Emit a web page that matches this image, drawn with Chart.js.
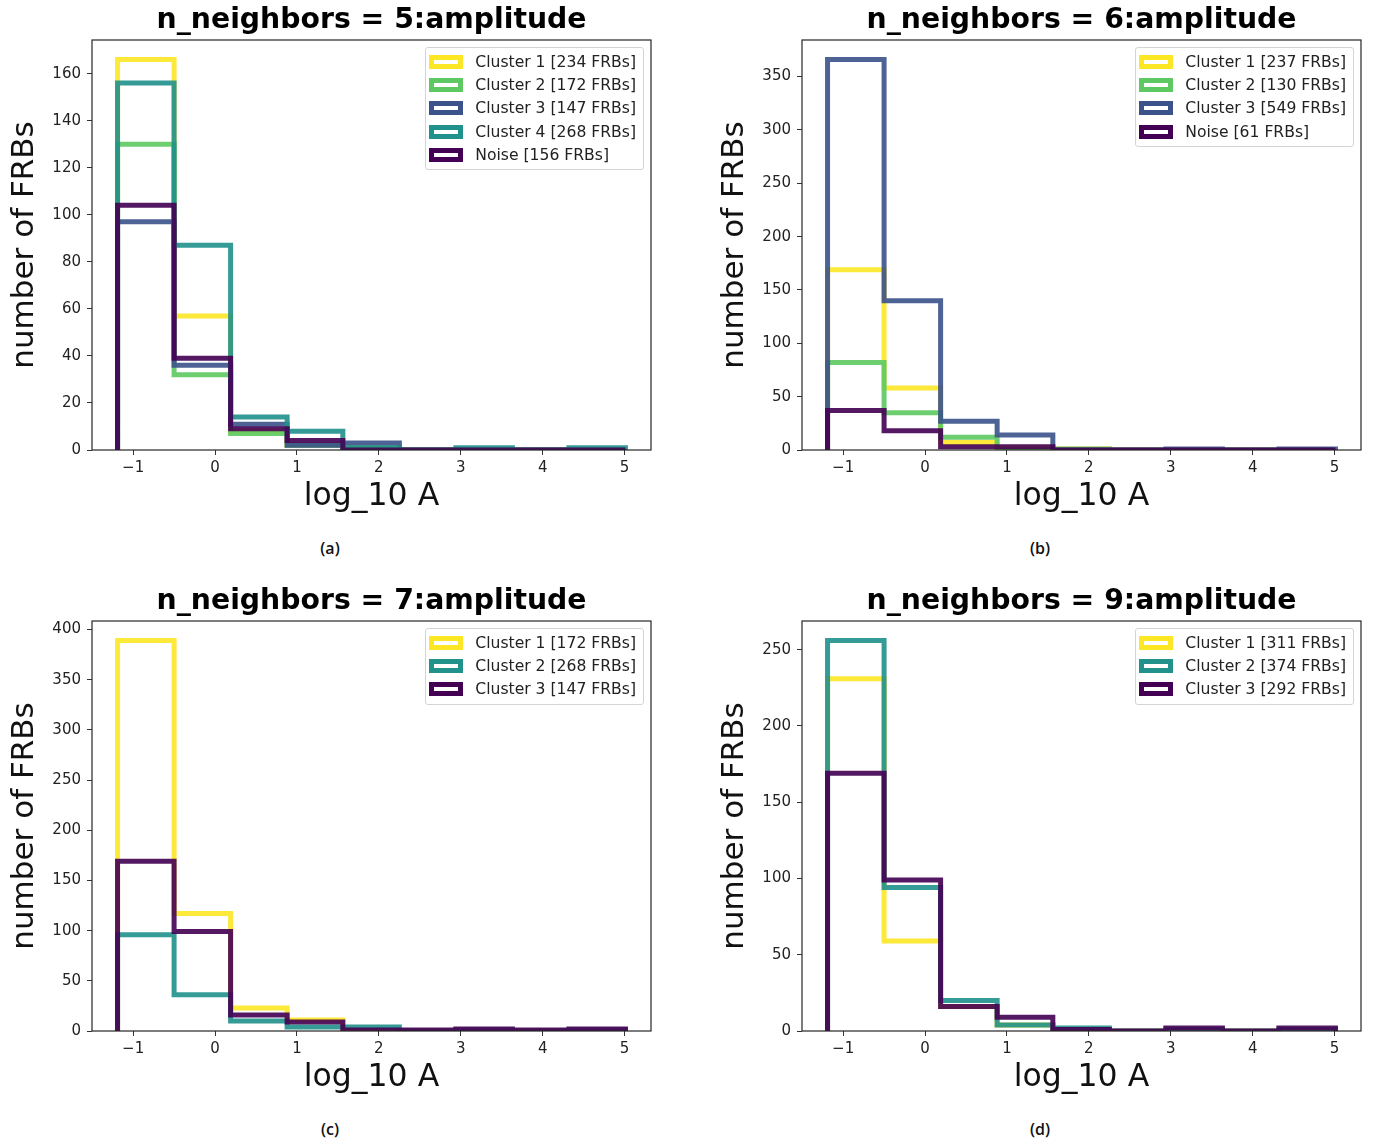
<!DOCTYPE html>
<html>
<head>
<meta charset="utf-8">
<title>n_neighbors : amplitude histograms</title>
<script src="https://cdn.jsdelivr.net/npm/chart.js@4.4.1/dist/chart.umd.min.js"></script>
<style>
  html, body { margin: 0; padding: 0; background: #fff; }
  body { width: 1376px; height: 1147px; position: relative; overflow: hidden; font-family: 'DejaVu Sans', sans-serif; }
  .panel { position: absolute; width: 690px; height: 570px; }
  .panel canvas { position: absolute; left: 0; top: 0; }
  .legend { position: absolute; right: 46px; top: 47px; border: 1px solid #d4d4d4; border-radius: 3px;
            background: rgba(255,255,255,0.85); padding: 2px 7px 3px 3px; }
  .legend .row { display: flex; align-items: center; height: 23.3px; font-size: 15.6px; color: #222; white-space: nowrap; }
  .legend .swatch { width: 24px; height: 4px; border: 5px solid; margin-right: 12px; }
  .caption { position: absolute; top: 537px; left: 330px; transform: translateX(-50%);
             font: 600 16px 'Open Sans', sans-serif; color: #111; }
</style>
</head>
<body>
<div class="panel" id="p0" style="left:0;top:0"></div>
<div class="panel" id="p1" style="left:710px;top:0"></div>
<div class="panel" id="p2" style="left:0;top:581px"></div>
<div class="panel" id="p3" style="left:710px;top:581px"></div>

<script>
'use strict';

/* ── Data (counts per bin) ── */
const binEdges = [-1.19, -0.50, 0.19, 0.88, 1.56, 2.25, 2.94, 3.63, 4.32, 5.01];
const xTicks   = [-1, 0, 1, 2, 3, 4, 5];

const panelTitles = ['n_neighbors = 5:amplitude', 'n_neighbors = 6:amplitude',
                     'n_neighbors = 7:amplitude', 'n_neighbors = 9:amplitude'];
const captions = ['(a)', '(b)', '(c)', '(d)'];
const yStep    = [20, 50, 50, 50];

// (a) n_neighbors = 5
const n5Labels = ['Cluster 1 [234 FRBs]', 'Cluster 2 [172 FRBs]', 'Cluster 3 [147 FRBs]', 'Cluster 4 [268 FRBs]', 'Noise [156 FRBs]'];
const n5Cluster1 = [166, 57, 8, 2, 1, 0, 0, 0, 0];
const n5Cluster2 = [130, 32, 7, 2, 1, 0, 0, 0, 0];
const n5Cluster3 = [97, 36, 11, 2, 3, 0, 0, 0, 0];
const n5Cluster4 = [156, 87, 14, 8, 1, 0, 1, 0, 1];
const n5Noise    = [104, 39, 9, 4, 0, 0, 0, 0, 0];

// (b) n_neighbors = 6
const n6Labels = ['Cluster 1 [237 FRBs]', 'Cluster 2 [130 FRBs]', 'Cluster 3 [549 FRBs]', 'Noise [61 FRBs]'];
const n6Cluster1 = [169, 58, 7, 2, 1, 0, 0, 0, 0];
const n6Cluster2 = [82, 35, 12, 0, 1, 0, 0, 0, 0];
const n6Cluster3 = [366, 140, 27, 14, 0, 0, 1, 0, 1];
const n6Noise    = [37, 18, 3, 3, 0, 0, 0, 0, 0];

// (c) n_neighbors = 7
const n7Labels = ['Cluster 1 [172 FRBs]', 'Cluster 2 [268 FRBs]', 'Cluster 3 [147 FRBs]'];
const n7Cluster1 = [389, 117, 23, 11, 1, 0, 0, 0, 0];
const n7Cluster2 = [96, 36, 10, 4, 4, 0, 1, 0, 1];
const n7Cluster3 = [169, 99, 16, 9, 1, 1, 2, 1, 2];

// (d) n_neighbors = 9
const n9Labels = ['Cluster 1 [311 FRBs]', 'Cluster 2 [374 FRBs]', 'Cluster 3 [292 FRBs]'];
const n9Cluster1 = [231, 59, 16, 4, 1, 0, 0, 0, 0];
const n9Cluster2 = [256, 94, 20, 4, 2, 0, 1, 0, 1];
const n9Cluster3 = [169, 99, 16, 9, 1, 0, 2, 0, 2];

/* ── Viridis picks ── */
const YELLOW = '#fde725', GREEN = '#5ec962', TEAL = '#21918c', BLUE = '#3b528b', PURPLE = '#440154';

const panels = [
  { labels: n5Labels, series: [n5Cluster1, n5Cluster2, n5Cluster3, n5Cluster4, n5Noise], colors: [YELLOW, GREEN, BLUE, TEAL, PURPLE] },
  { labels: n6Labels, series: [n6Cluster1, n6Cluster2, n6Cluster3, n6Noise],            colors: [YELLOW, GREEN, BLUE, PURPLE] },
  { labels: n7Labels, series: [n7Cluster1, n7Cluster2, n7Cluster3],                      colors: [YELLOW, TEAL, PURPLE] },
  { labels: n9Labels, series: [n9Cluster1, n9Cluster2, n9Cluster3],                      colors: [YELLOW, TEAL, PURPLE] },
];

Chart.defaults.font.family = "'DejaVu Sans', sans-serif";

/* outline of a step histogram, like histtype='step' */
function stepPoints(edges, counts) {
  const pts = [{ x: edges[0], y: 0 }];
  counts.forEach((c, i) => {
    pts.push({ x: edges[i], y: c });
    pts.push({ x: edges[i + 1], y: c });
  });
  pts.push({ x: edges[edges.length - 1], y: 0 });
  return pts;
}

const fmtTick = v => (v < 0 ? '\u2212' + Math.abs(v) : String(v));

/* axes frame (all four spines) + bold title centred over the axes */
const framePlugin = {
  id: 'frame',
  afterDatasetsDraw(chart) {
    const { ctx, chartArea: a } = chart;
    ctx.save();
    ctx.strokeStyle = '#262626';
    ctx.lineWidth = 1.2;
    ctx.strokeRect(a.left, a.top, a.right - a.left, a.bottom - a.top);
    ctx.restore();
  },
  afterDraw(chart, args, opts) {
    const { ctx, chartArea: a } = chart;
    ctx.save();
    ctx.font = "bold 28.3px 'DejaVu Sans'";
    ctx.fillStyle = '#000';
    ctx.textAlign = 'center';
    ctx.textBaseline = 'middle';
    ctx.fillText(opts.text, (a.left + a.right) / 2, 21);
    ctx.restore();
  }
};

panels.forEach((p, k) => {
  const host = document.getElementById('p' + k);
  const canvas = document.createElement('canvas');
  canvas.width = 690; canvas.height = 530;
  canvas.style.width = '690px'; canvas.style.height = '530px';
  host.appendChild(canvas);

  const yMax = Math.max(...p.series.flat()) * 1.05;

  const datasets = p.series.map((counts, i) => ({
    label: p.labels[i],
    data: stepPoints(binEdges, counts),
    borderColor: p.colors[i] + 'e8',
    borderWidth: 5,
    borderJoinStyle: 'miter',
    borderCapStyle: 'butt',
    pointRadius: 0,
    fill: false,
    tension: 0,
    clip: 0,
    order: p.series.length - i,
  }));

  new Chart(canvas, {
    type: 'line',
    data: { datasets },
    options: {
      responsive: false,
      animation: false,
      layout: { padding: { top: 40, right: 39, left: 0, bottom: 0 } },
      plugins: {
        legend: { display: false },
        tooltip: { enabled: false },
        frame: { text: panelTitles[k] },
      },
      scales: {
        x: {
          type: 'linear',
          min: -1.502, max: 5.322,
          afterFit: s => { s.height = 80; },
          afterBuildTicks: s => { s.ticks = xTicks.map(v => ({ value: v })); },
          border: { display: false },
          grid: { drawOnChartArea: false, tickLength: 5, tickColor: '#333', tickWidth: 1 },
          ticks: { padding: 4, color: '#222', font: { size: 15 }, maxRotation: 0, autoSkip: false, callback: fmtTick },
          title: { display: true, text: 'log_10 A', color: '#111', font: { size: 31.5 }, padding: { top: 0, bottom: 14 } },
        },
        y: {
          min: 0, max: yMax,
          afterFit: s => { s.width = 92; },
          border: { display: false },
          grid: { drawOnChartArea: false, tickLength: 5, tickColor: '#333', tickWidth: 1 },
          ticks: { stepSize: yStep[k], includeBounds: false, padding: 6, color: '#222', font: { size: 15 }, callback: fmtTick },
          title: { display: true, text: 'number of FRBs', color: '#111', font: { size: 31 }, padding: { top: 6.4, bottom: 0 } },
        }
      }
    },
    plugins: [framePlugin]
  });

  /* legend, matplotlib style: outlined patch handles */
  const legend = document.createElement('div');
  legend.className = 'legend';
  legend.innerHTML = p.labels.map((label, i) => `
    <div class="row"><span class="swatch" style="border-color:${p.colors[i]}"></span>${label}</div>`).join('');
  host.appendChild(legend);

  const cap = document.createElement('div');
  cap.className = 'caption';
  cap.textContent = captions[k];
  host.appendChild(cap);
});
</script>
</body>
</html>
